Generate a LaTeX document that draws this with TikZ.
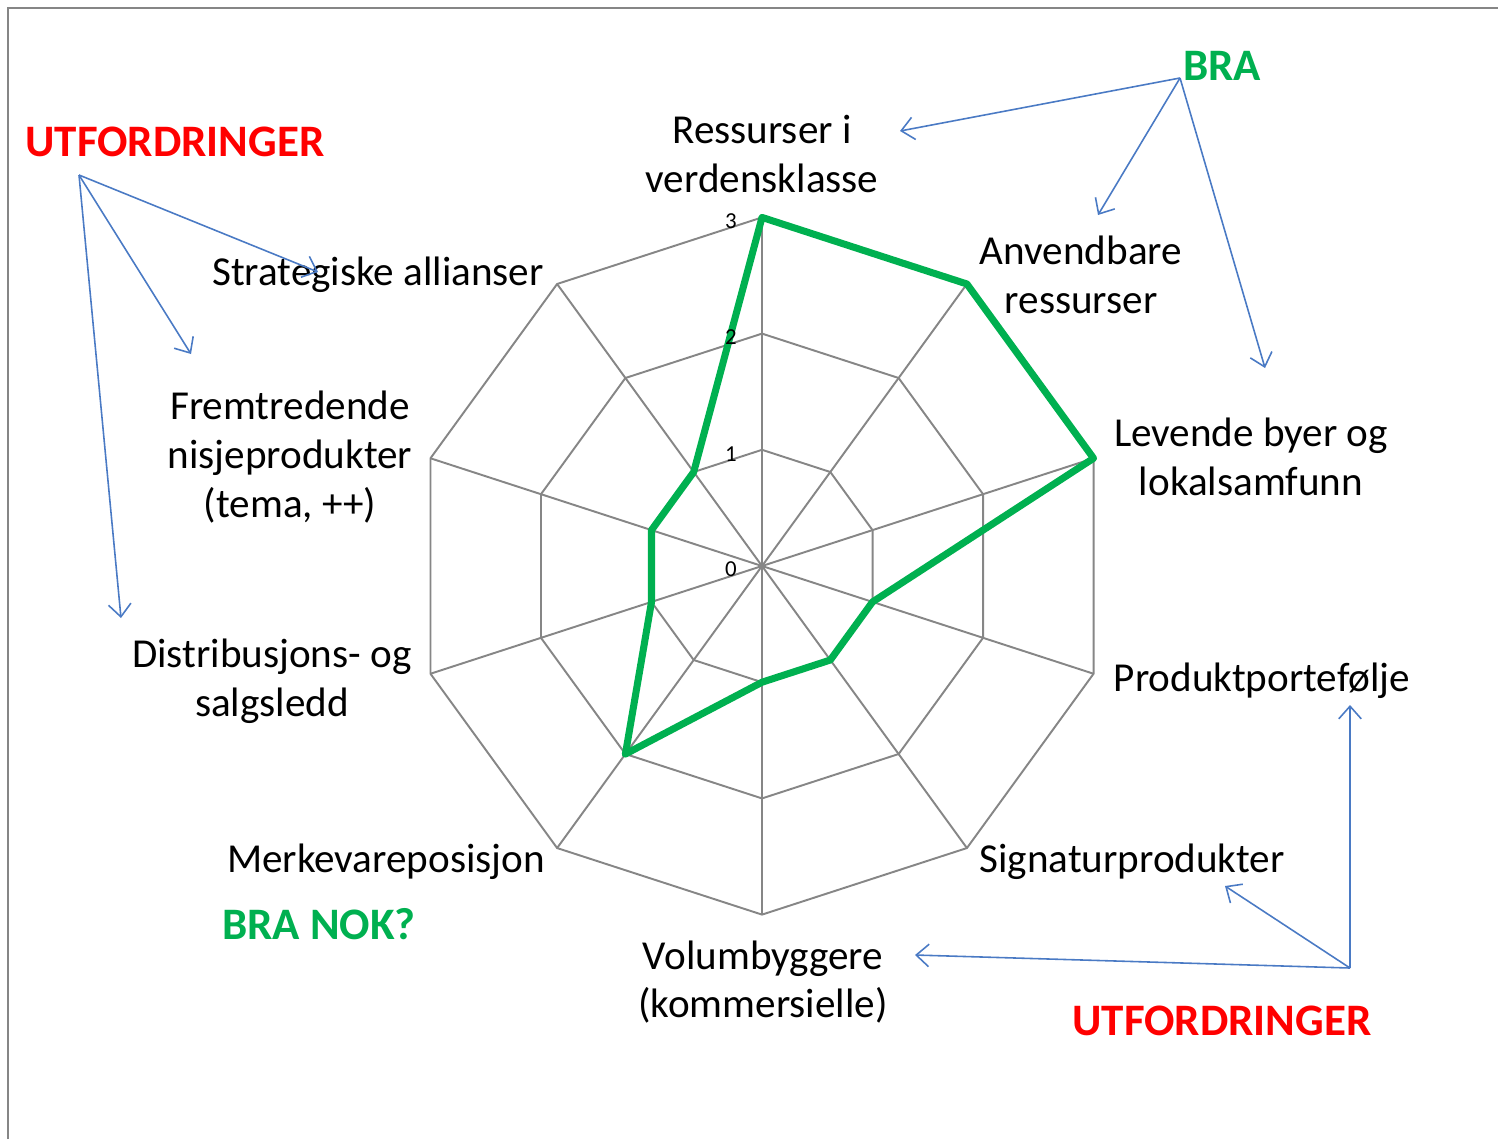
\documentclass[tikz,border=0pt]{standalone}
\usepackage{fontspec}
\setmainfont{Carlito}
\usepackage{tikz}
\usetikzlibrary{arrows.meta}
\definecolor{okgreen}{RGB}{0,176,80}
\definecolor{badred}{RGB}{255,0,0}
\definecolor{callblue}{RGB}{74,122,196}
\definecolor{gridgray}{RGB}{134,134,134}
\tikzstyle{lbl} = [align=center, font={\fontsize{11.7}{13.9}\selectfont}, inner sep=0pt]
\tikzstyle{tick} = [font={\fontsize{6.5}{7}\selectfont}, inner sep=0pt]
\tikzstyle{good} = [text=okgreen, font={\fontsize{12.8}{14}\selectfont\bfseries}, inner sep=0pt]
\tikzstyle{bad} = [text=badred, font={\fontsize{12.8}{14}\selectfont\bfseries}, inner sep=0pt]
\tikzstyle{grid} = [draw=gridgray, line width=0.55pt]
\tikzstyle{score} = [draw=okgreen, line width=2pt, line join=round]
\tikzstyle{call} = [draw=callblue, line width=0.45pt, -{Straight Barb[length=3.6pt,width=6.4pt]}]

\begin{document}
\begin{tikzpicture}[x=0.01cm,y=-0.01cm]
    \useasboundingbox (0,0) rectangle (1498,1139);
    \draw[gridgray, line width=0.5pt] (8,1139) -- (8,8) -- (1498,8);
    % radar grid
    \coordinate (c) at (762,566);
    \begin{scope}[shift={(c)}]
      \foreach \r in {1,2,3}
        \draw[grid] (-90:\r*116.2) \foreach \i in {1,...,9}{ -- (-90+36*\i:\r*116.2)} -- cycle;
      \foreach \i in {0,...,9}
        \draw[grid] (0,0) -- (-90+36*\i:348.6);
      \foreach \v [count=\i from 0] in {3,3,3,1,1,1,2,1,1,1}
        \coordinate (p\i) at (-90+36*\i:\v*116.2);
    \end{scope}
    \draw[score] (p0)--(p1)--(p2)--(p3)--(p4)--(p5)--(p6)--(p7)--(p8)--(p9)--cycle;
    \node[tick](t0) at (731,569){0};
    \node[tick](t1) at (731,454){1};
    \node[tick](t2) at (731,337){2};
    \node[tick](t3) at (731,221){3};
    % axis labels
    \node[lbl](ress) at (762,154){Ressurser i\\verdensklasse};
    \node[lbl](anv) at (1081,275){Anvendbare\\ressurser};
    \node[lbl](lev) at (1251,457){Levende byer og\\lokalsamfunn};
    \node[lbl](prod) at (1262,681){Produktportefølje};
    \node[lbl](sign) at (1132,862){Signaturprodukter};
    \node[lbl](vol) at (763,982){Volumbyggere\\(kommersielle)};
    \node[lbl](merk) at (386,862){Merkevareposisjon};
    \node[lbl](dist) at (272,681){Distribusjons- og\\salgsledd};
    \node[lbl](frem) at (290,457){Fremtredende\\nisjeprodukter\\(tema, ++)};
    \node[lbl](strat) at (378,275){Strategiske allianser};
    % comments
    \node[good](bra) at (1222,66){BRA};
    \node[bad](utf1) at (175,142){UTFORDRINGER};
    \node[good](nok) at (319,924){BRA NOK?};
    \node[bad](utf2) at (1222,1021){UTFORDRINGER};
    \coordinate (b0) at (1180,78);
    \coordinate (b1) at (900,131);
    \coordinate (b2) at (1098,215);
    \coordinate (b3) at (1265,368);
    \coordinate (u0) at (79,175);
    \coordinate (u1) at (318,272);
    \coordinate (u2) at (191,354);
    \coordinate (u3) at (121,618);
    \coordinate (v0) at (1350,968);
    \coordinate (v1) at (1350,705);
    \coordinate (v2) at (1225,886);
    \coordinate (v3) at (915,955);
    \draw[call](b0)--(b1);
    \draw[call](b0)--(b2);
    \draw[call](b0)--(b3);
    \draw[call](u0)--(u1);
    \draw[call](u0)--(u2);
    \draw[call](u0)--(u3);
    \draw[call](v0)--(v1);
    \draw[call](v0)--(v2);
    \draw[call](v0)--(v3);
\end{tikzpicture}
\end{document}
